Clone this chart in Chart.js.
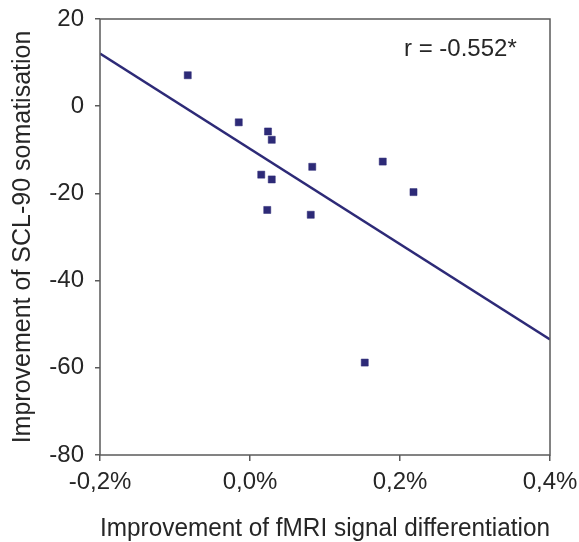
<!DOCTYPE html>
<html>
<head>
<meta charset="utf-8">
<script src="https://cdn.jsdelivr.net/npm/chart.js@4"></script>
<style>
  html, body { margin: 0; padding: 0; background: #fff; }
  #wrap { width: 579px; height: 542px; }
</style>
</head>
<body>
<div id="wrap"><canvas id="myChart" width="579" height="542"></canvas></div>
<script>
// scatter points (x in %, y = SCL-90 improvement)
let xValues = [-0.083, -0.015, 0.024, 0.029, 0.015, 0.029, 0.023, 0.083, 0.081, 0.177, 0.218, 0.153];
let yValues = [7.1, -3.7, -5.8, -7.7, -15.7, -16.8, -23.8, -13.9, -24.9, -12.7, -19.7, -58.8];

// regression line endpoints
let lineX = [-0.2, 0.4];
let lineY = [12.1, -53.5];

let xTicks = [-0.2, 0.0, 0.2, 0.4];
let yTicks = [-80, -60, -40, -20, 0, 20];
let rLabel = 'r = -0.552*';

const markColor = '#2d2a77';
const axisColor = '#5a5a5a';
const textColor = '#262626';
const fontFamily = '"Liberation Sans", Arial, sans-serif';

function toPoints(xs, ys) {
    let pts = [];
    for (let i = 0; i < xs.length; i++) {
        pts.push({ x: xs[i], y: ys[i] });
    }
    return pts;
}

// frame round plot area + correlation text
const framePlugin = {
    id: 'frame',
    afterDraw(chart) {
        const ctx = chart.ctx;
        const a = chart.chartArea;
        ctx.save();
        ctx.strokeStyle = axisColor;
        ctx.lineWidth = 1.5;
        ctx.strokeRect(a.left, a.top, a.right - a.left, a.bottom - a.top);
        ctx.fillStyle = textColor;
        ctx.font = '24px ' + fontFamily;
        ctx.textAlign = 'left';
        ctx.textBaseline = 'middle';
        ctx.fillText(rLabel, 404, 49);
        ctx.restore();
    }
};

function drawChart() {
    const c = document.getElementById('myChart').getContext('2d');
    new Chart(c, {
        type: 'scatter',
        data: {
            datasets: [{
                data: toPoints(xValues, yValues),
                pointStyle: 'rect',
                pointRadius: 5,
                pointHoverRadius: 5,
                backgroundColor: markColor,
                borderColor: markColor,
                borderWidth: 0.5,
                order: 0
            }, {
                type: 'line',
                data: toPoints(lineX, lineY),
                borderColor: markColor,
                borderWidth: 2.5,
                pointRadius: 0,
                fill: false,
                order: 1
            }]
        },
        options: {
            responsive: false,
            animation: false,
            layout: { padding: { top: 19, right: 29, left: 0, bottom: 0 } },
            plugins: {
                legend: { display: false },
                tooltip: { enabled: false }
            },
            scales: {
                x: {
                    type: 'linear',
                    min: -0.2,
                    max: 0.4,
                    afterBuildTicks: function (axis) {
                        axis.ticks = xTicks.map(v => ({ value: v }));
                    },
                    afterFit: function (axis) {
                        axis.height = 87;
                        axis.paddingLeft = 0;
                        axis.paddingRight = 0;
                    },
                    border: { display: false },
                    grid: { drawOnChartArea: false, drawTicks: true, tickLength: 6, color: axisColor, lineWidth: 1.5 },
                    ticks: {
                        color: textColor,
                        padding: 7,
                        font: { size: 24, family: fontFamily },
                        maxRotation: 0,
                        callback: function (v) { return v.toFixed(1).replace('.', ',') + '%'; }
                    },
                    title: {
                        display: true,
                        text: 'Improvement of fMRI signal differentiation',
                        color: textColor,
                        font: { size: 25, family: fontFamily, lineHeight: 1 },
                        padding: { top: 0, bottom: 0 }
                    }
                },
                y: {
                    min: -80,
                    max: 20,
                    afterBuildTicks: function (axis) {
                        axis.ticks = yTicks.map(v => ({ value: v }));
                    },
                    afterFit: function (axis) {
                        axis.width = 100;
                        axis.paddingTop = 0;
                        axis.paddingBottom = 0;
                    },
                    border: { display: false },
                    grid: { drawOnChartArea: false, drawTicks: true, tickLength: 5, color: axisColor, lineWidth: 1.5 },
                    ticks: {
                        color: textColor,
                        padding: 11,
                        font: { size: 24, family: fontFamily }
                    },
                    title: {
                        display: true,
                        text: 'Improvement of SCL-90 somatisation',
                        color: textColor,
                        font: { size: 25, family: fontFamily, lineHeight: 1 },
                        padding: { top: 11, bottom: 0 }
                    }
                }
            }
        },
        plugins: [framePlugin]
    });
}

drawChart();
</script>
</body>
</html>
